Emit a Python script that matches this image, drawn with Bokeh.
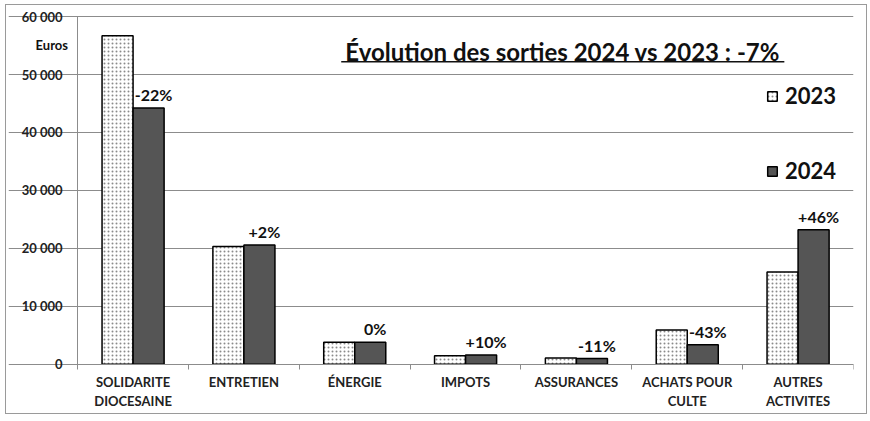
from bokeh.plotting import figure
from bokeh.models import FixedTicker, Label, Legend, LegendItem, ColumnDataSource, Range1d
from bokeh.core.properties import value
from bokeh.embed import file_html
from bokeh.resources import INLINE

categories = ["SOLIDARITE\nDIOCESAINE", "ENTRETIEN", "ÉNERGIE", "IMPOTS",
              "ASSURANCES", "ACHATS POUR\nCULTE", "AUTRES\nACTIVITES"]
values_2023 = [56700, 20300, 3800, 1450, 1100, 5900, 15900]
values_2024 = [44200, 20600, 3800, 1600, 980, 3360, 23200]
pct_labels = ["-22%", "+2%", "0%", "+10%", "-11%", "-43%", "+46%"]
y_ticks = [0, 10000, 20000, 30000, 40000, 50000, 60000]
y_tick_labels = ["0", "10 000", "20 000", "30 000", "40 000", "50 000", "60 000"]
title_text = "Évolution des sorties 2024 vs 2023 : -7%"
unit_text = "Euros"
series_names = ["2023", "2024"]

FONT = "Lato"
n = len(categories)
centers = [i + 0.5 for i in range(n)]
bw = 0.28
x23 = [c - bw / 2 for c in centers]
x24 = [c + bw / 2 for c in centers]

src = ColumnDataSource(dict(x23=x23, x24=x24, v23=values_2023, v24=values_2024,
                            pct=pct_labels))

# the frame covers the whole figure; both axes are placed at x=0 / y=0
p = figure(width=862, height=410, output_backend="svg", toolbar_location=None,
           x_range=Range1d(-0.624, n), y_range=Range1d(-8324, 61734),
           min_border_left=2, min_border_right=15, min_border_top=1, min_border_bottom=3)
p.outline_line_color = None
p.background_fill_color = "white"
p.border_fill_color = "white"
p.styles = {"border": "1px solid #9a9a9a", "margin-left": "5px", "margin-top": "4px"}

# grid
p.xgrid.grid_line_color = None
p.ygrid.ticker = FixedTicker(ticks=y_ticks)
p.ygrid.grid_line_color = "#8c8c8c"
p.ygrid.grid_line_width = 1
p.ygrid.bounds = (0, n)

# y axis
p.yaxis.fixed_location = 0
p.yaxis.bounds = (0, 60000)
p.yaxis.ticker = FixedTicker(ticks=y_ticks, minor_ticks=[])
p.yaxis.major_label_overrides = {t: l for t, l in zip(y_ticks, y_tick_labels)}
p.yaxis.axis_line_color = "#8c8c8c"
p.yaxis.major_tick_line_color = "#8c8c8c"
p.yaxis.major_tick_out = 8
p.yaxis.major_tick_in = 0
p.yaxis.major_label_standoff = 7
p.yaxis.major_label_text_font = FONT
p.yaxis.major_label_text_font_style = "bold"
p.yaxis.major_label_text_font_size = "13px"
p.yaxis.major_label_text_color = "#222222"

# x axis
p.xaxis.fixed_location = 0
p.xaxis.bounds = (0, n)
p.xaxis.ticker = FixedTicker(ticks=centers, minor_ticks=list(range(n + 1)))
p.xaxis.major_label_overrides = {c: l for c, l in zip(centers, categories)}
p.xaxis.axis_line_color = "#8c8c8c"
p.xaxis.major_tick_line_color = None
p.xaxis.major_tick_out = 0
p.xaxis.major_tick_in = 0
p.xaxis.minor_tick_line_color = "#8c8c8c"
p.xaxis.minor_tick_out = 5
p.xaxis.minor_tick_in = 0
p.xaxis.major_label_standoff = 5
p.xaxis.major_label_text_font = FONT
p.xaxis.major_label_text_font_style = "bold"
p.xaxis.major_label_text_font_size = "13px"
p.xaxis.major_label_text_color = "#222222"
p.xaxis.major_label_text_line_height = 1.2

r23 = p.vbar(x="x23", top="v23", width=bw, source=src, fill_color="white",
             line_color="black", line_width=1.5, hatch_pattern="dot",
             hatch_color="#8a8a8a", hatch_scale=4, hatch_weight=1)
r24 = p.vbar(x="x24", top="v24", width=bw, source=src, fill_color="#555555",
             line_color="black", line_width=1.5)

p.text(x="x24", y="v24", text="pct", source=src, text_font=value(FONT),
       text_font_style="bold", text_font_size="16px", text_align="center",
       text_baseline="bottom", y_offset=-4, x_offset=5, text_color="#111111")

p.add_layout(Label(x=4.376, y=53930, text=title_text, text_font=FONT,
                   text_font_style="bold", text_font_size="24px",
                   text_align="center", text_baseline="middle", text_color="#111111"))
p.segment(x0=[2.378], y0=[52195], x1=[6.376], y1=[52195], line_color="#111111", line_width=1.5)

p.add_layout(Label(x=-0.38, y=55140, text=unit_text,
                   text_font=FONT, text_font_style="bold", text_font_size="13px",
                   text_align="left", text_baseline="middle", text_color="#111111"))

legend = Legend(items=[LegendItem(label=series_names[0], renderers=[r23]),
                       LegendItem(label=series_names[1], renderers=[r24])],
                location=(758, 228), orientation="vertical",
                label_text_font=FONT, label_text_font_style="bold",
                label_text_font_size="22px", label_text_color="#111111",
                glyph_width=12, glyph_height=12, spacing=48,
                border_line_color=None, background_fill_alpha=0,
                padding=0, margin=0, label_standoff=7)
p.add_layout(legend)

open("out.html", "w").write(file_html(p, INLINE))
